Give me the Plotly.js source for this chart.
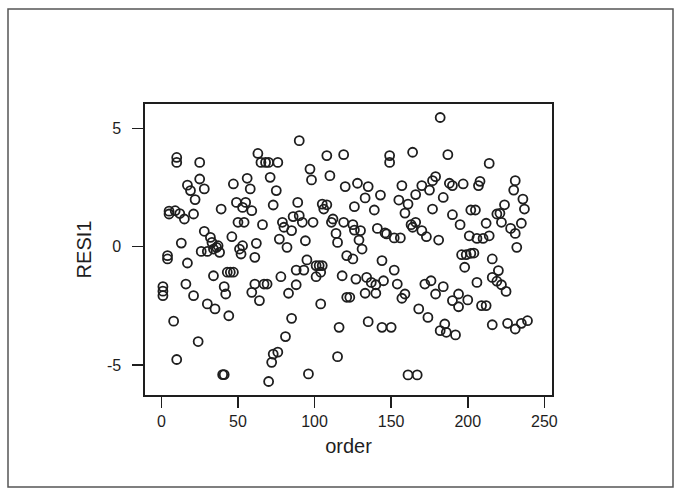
<!DOCTYPE html>
<html>
<head>
<meta charset="utf-8">
<script src="https://cdn.plot.ly/plotly-3.0.1.min.js"></script>
<style>html,body{margin:0;padding:0;background:#fff;}#chart{width:680px;height:491px;}</style>
</head>
<body>
<div id="chart"></div>
<script>
// order index of each observation
var order = [
  1,1,1,4,4,5,5,8,9,10,10,10,12,13,15,16,17,17,19,21,21,22,24,25,25,26,28,28,30,30,
  32,33,34,34,35,36,37,38,39,40,41,41,42,43,44,45,46,47,47,49,50,51,52,53,53,54,55,56,58,59,
  59,61,61,62,63,64,65,66,67,68,69,70,70,71,72,73,73,75,76,76,77,78,79,80,81,82,83,85,85,86,
  88,88,89,90,90,92,93,94,95,96,97,98,99,101,101,103,104,104,105,105,106,108,108,110,111,112,114,115,115,116,
  118,119,119,120,121,121,123,125,125,126,126,127,128,129,130,131,133,133,134,135,135,137,139,140,140,141,143,144,144,145,
  146,147,149,149,150,152,152,154,155,156,157,157,159,159,161,161,163,164,164,166,166,167,168,170,170,172,173,174,175,176,
  177,177,179,179,181,182,182,184,184,185,186,187,188,190,190,190,192,194,194,195,196,197,198,199,200,201,202,202,204,205,
  206,206,207,208,209,210,212,212,214,214,216,216,216,219,219,220,221,222,222,224,225,226,228,230,231,231,231,232,235,235,
  236,237,239
];
// residuals RESI1
var resi1 = [
  -2.07,-1.88,-1.69,-0.38,-0.52,1.38,1.5,-3.15,1.52,-4.77,3.77,3.56,1.4,0.15,1.17,-1.58,-0.69,2.6,2.37,-2.07,1.38,1.99,-4.01,2.86,3.56,-0.2,2.44,0.65,-2.42,-0.2,
  0.39,0.18,-0.1,-1.23,-2.63,-0.03,0.04,-0.24,1.59,-5.41,-5.41,-1.69,-2.0,-1.08,-2.92,-1.08,0.42,-1.08,2.65,1.87,1.03,-0.1,-0.31,0.04,1.66,1.03,1.87,2.89,2.44,-1.93,
  1.52,-1.58,-0.45,0.14,3.94,-2.28,3.56,0.93,-1.58,3.56,-1.58,3.56,-5.7,2.93,-4.89,1.76,-4.54,2.37,3.56,-4.46,0.32,-1.27,1.03,0.82,-3.8,-0.03,-1.97,0.68,-3.03,1.27,
  -1.61,-0.99,1.87,1.31,4.48,1.03,-0.99,0.25,-0.56,-5.38,3.28,2.82,1.03,-0.8,-1.27,-0.8,-1.08,-2.42,-0.8,1.8,1.59,1.77,3.85,3.0,1.03,1.17,0.56,0.18,-4.65,-3.41,
  -1.23,3.89,1.03,2.54,-2.14,-0.38,-2.14,-0.52,0.93,1.69,0.7,-1.37,2.68,0.28,0.68,-0.1,-1.97,2.06,-1.3,-3.17,2.54,-1.51,1.55,-1.97,-1.61,0.77,2.18,-0.59,-3.41,-1.44,
  0.58,0.54,3.85,3.56,-3.41,-0.99,0.37,-1.58,1.97,0.37,2.58,-2.18,-2.0,1.42,-5.42,1.8,0.93,0.82,3.99,1.03,2.2,-5.42,-2.63,2.58,0.68,-1.58,0.42,-2.99,2.39,-1.44,
  1.59,2.79,2.96,-2.0,0.28,5.46,-3.55,-1.69,2.08,-3.27,-3.62,3.89,2.68,-2.28,1.35,2.58,-3.73,-2.0,-2.54,0.93,-0.34,2.65,-0.87,-0.34,-2.25,0.46,-0.28,1.55,-0.27,1.55,
  -1.51,0.35,2.58,2.76,-2.49,0.35,-2.49,0.99,0.46,3.52,-3.3,-0.52,-1.3,1.38,-1.46,-1.01,1.41,1.03,-1.61,1.77,-1.89,-3.24,0.77,2.39,-3.48,2.79,0.56,-0.03,-3.24,0.99,
  2.01,1.59,-3.13
];
var xTicks = [0, 50, 100, 150, 200, 250];
var yTicks = [-5, 0, 5];

var fontFam = 'Liberation Sans, Arial, Helvetica, sans-serif';
var ink = '#1e1e1e';

var trace = {
  x: order, y: resi1, type: 'scatter', mode: 'markers',
  marker: {symbol: 'circle-open', size: 9, color: ink, line: {width: 1.8, color: ink}},
  hoverinfo: 'x+y'
};

var layout = {
  width: 680, height: 491,
  margin: {l: 145, r: 128, t: 104, b: 96},
  paper_bgcolor: '#ffffff', plot_bgcolor: '#ffffff',
  showlegend: false,
  font: {family: fontFam, color: ink},
  xaxis: {
    range: [-10.7, 255], tickvals: xTicks, ticktext: xTicks.map(String),
    ticks: 'outside', ticklen: 11, tickwidth: 1.5, tickcolor: ink,
    showline: true, mirror: true, linecolor: ink, linewidth: 1.6,
    showgrid: false, zeroline: false, automargin: false,
    tickfont: {family: fontFam, size: 16, color: ink},
    title: {text: 'order', font: {family: fontFam, size: 20, color: ink}, standoff: 10}
  },
  yaxis: {
    range: [-6.27, 6.03], tickvals: yTicks, ticktext: yTicks.map(String),
    ticks: 'outside', ticklen: 11, tickwidth: 1.5, tickcolor: ink,
    showline: true, mirror: true, linecolor: ink, linewidth: 1.6,
    showgrid: false, zeroline: false, automargin: false,
    ticklabelstandoff: 8,
    tickfont: {family: fontFam, size: 16, color: ink},
    title: {text: 'RESI1', font: {family: fontFam, size: 20, color: ink}, standoff: 10}
  },
  shapes: [{
    type: 'rect', xref: 'paper', yref: 'paper',
    x0: -0.3366, x1: 1.2973, y0: -0.3162, y1: 1.3265,
    line: {color: '#555', width: 1.5}, fillcolor: 'rgba(0,0,0,0)'
  }]
};

Plotly.newPlot('chart', [trace], layout, {displayModeBar: false, staticPlot: true});
</script>
</body>
</html>
